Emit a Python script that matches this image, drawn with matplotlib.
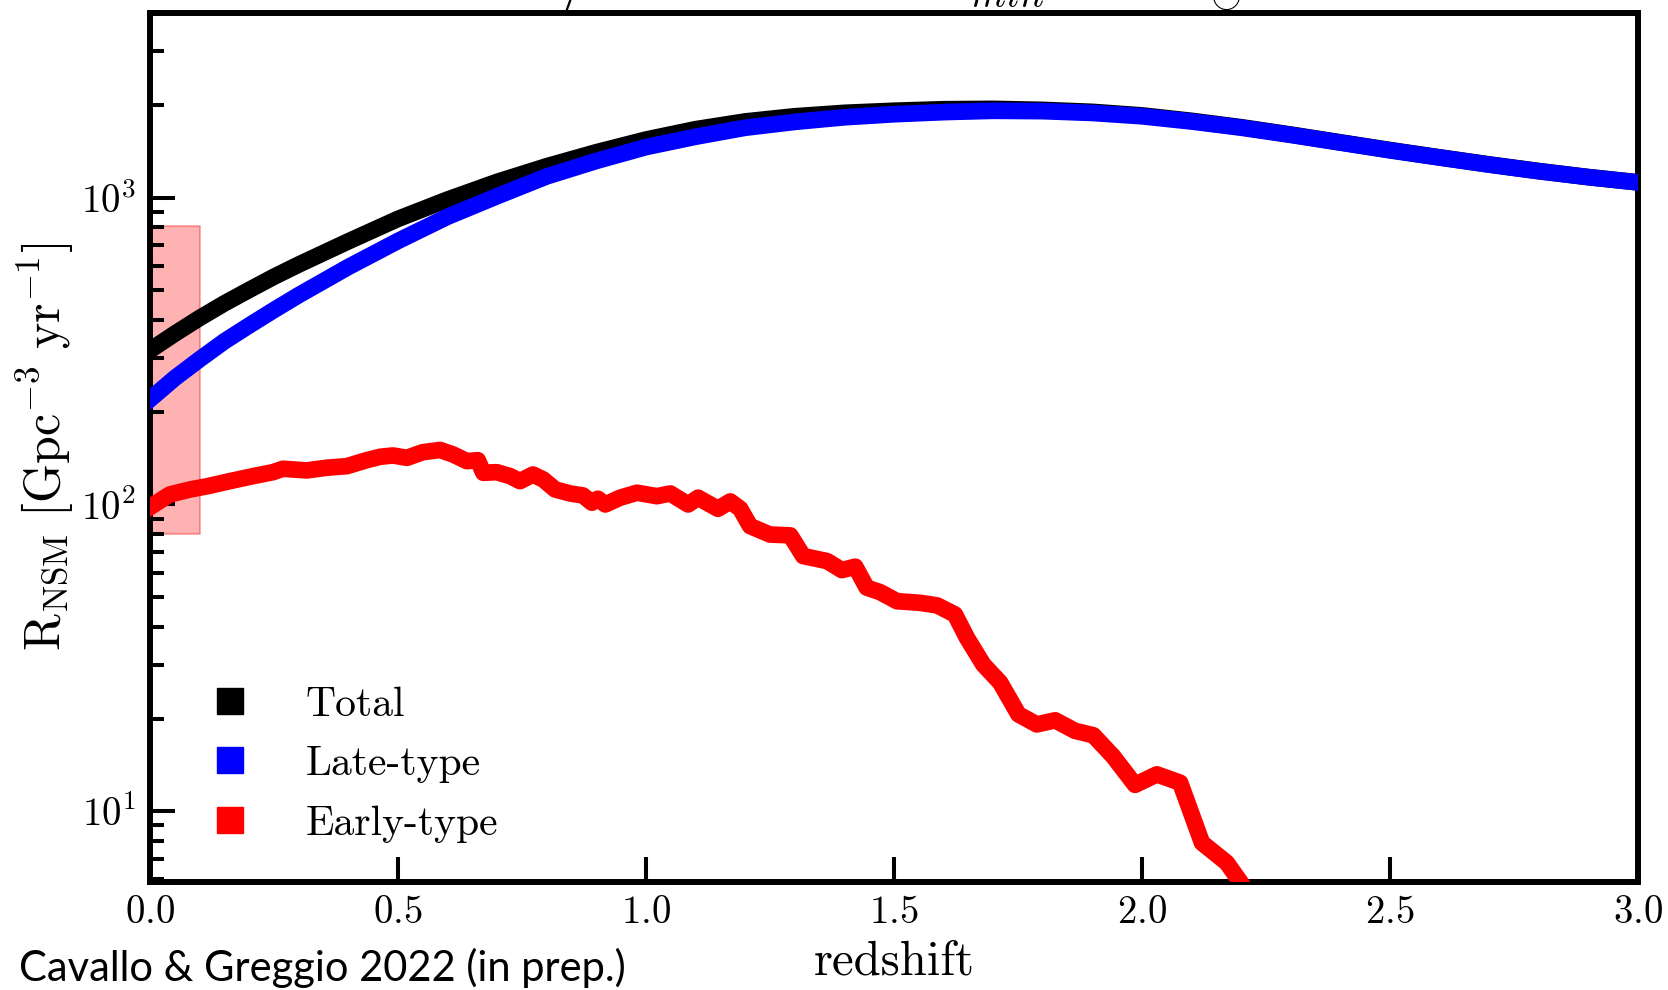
import matplotlib
matplotlib.use("Agg")
import matplotlib.pyplot as plt
from matplotlib.lines import Line2D
from matplotlib.ticker import NullLocator, NullFormatter, LogLocator

# ---- data ---------------------------------------------------------------
redshift = [0.0, 0.05, 0.1, 0.15, 0.2, 0.25, 0.3, 0.4, 0.5, 0.6, 0.7, 0.8,
            0.9, 1.0, 1.1, 1.2, 1.3, 1.4, 1.5, 1.6, 1.7, 1.8, 1.9, 2.0, 2.1,
            2.2, 2.3, 2.4, 2.5, 2.6, 2.7, 2.8, 2.9, 3.0]
rate_total = [318, 360, 405, 452, 500, 552, 605, 720, 852, 985, 1125, 1265,
              1405, 1545, 1670, 1770, 1840, 1888, 1918, 1940, 1945, 1930,
              1902, 1852, 1778, 1695, 1604, 1513, 1428, 1352, 1282, 1220,
              1166, 1121]
rate_late = [220, 258, 297, 340, 383, 430, 481, 594, 722, 866, 1010, 1172,
             1316, 1460, 1578, 1688, 1764, 1826, 1868, 1898, 1917, 1912,
             1886, 1840, 1769, 1689, 1600, 1510, 1425, 1350, 1280, 1218,
             1165, 1120]

redshift_early = [0.000, 0.040, 0.081, 0.114, 0.161, 0.208, 0.248, 0.268,
                  0.316, 0.356, 0.397, 0.437, 0.464, 0.490, 0.518, 0.550,
                  0.585, 0.611, 0.639, 0.661, 0.672, 0.699, 0.726, 0.746,
                  0.772, 0.793, 0.817, 0.847, 0.873, 0.891, 0.903, 0.918,
                  0.948, 0.982, 1.022, 1.049, 1.085, 1.105, 1.145, 1.170,
                  1.190, 1.210, 1.250, 1.291, 1.317, 1.365, 1.395, 1.422,
                  1.445, 1.472, 1.506, 1.553, 1.587, 1.623, 1.647, 1.680,
                  1.714, 1.751, 1.788, 1.825, 1.865, 1.902, 1.942, 1.986,
                  2.030, 2.077, 2.121, 2.171, 2.198, 2.240]
rate_early = [98, 107.8, 111.9, 114.5, 119.1, 123.7, 127.4, 130.7,
              129.1, 131.7, 133.3, 139.4, 143.0, 144.4, 141.9, 148.0,
              150.5, 145.5, 138.4, 139.4, 126.8, 127.4, 123.7, 119.1,
              125.2, 120.6, 111.9, 108.6, 107.0, 101.3, 104.4, 100.0,
              105.2, 109.2, 106.4, 108.6, 100.0, 105.2, 96.8, 102.3,
              96.8, 85.0, 79.8, 79.3, 67.9, 65.4, 61.1, 62.7,
              53.6, 51.8, 48.4, 47.8, 46.9, 43.8, 36.8, 30.1,
              26.3, 20.7, 19.2, 19.8, 18.3, 17.7, 15.1, 12.2,
              13.2, 12.4, 7.9, 6.8, 5.9, 4.6]

# local (LVK) rate interval
band_redshift = [0.0, 0.1]
band_rate = [80, 810]

labels = ["Total", "Late-type", "Early-type"]
colors = ["black", "blue", "red"]
xticks = [0.0, 0.5, 1.0, 1.5, 2.0, 2.5, 3.0]

# ---- style --------------------------------------------------------------
plt.rcParams.update({
    "font.family": "serif",
    "font.serif": ["cmr10"],
    "mathtext.fontset": "cm",
    "axes.formatter.use_mathtext": True,
    "axes.unicode_minus": False,
})

fig = plt.figure(figsize=(16.68, 9.90), dpi=100)
ax = fig.add_axes([0.0899, 0.1094, 0.8921, 0.8777])

ax.fill_between(band_redshift, band_rate[0], band_rate[1],
                facecolor=(1, 0, 0, 0.3), edgecolor=(0.9, 0, 0, 0.3),
                lw=1.5, zorder=1)

lw = 12
ax.plot(redshift, rate_total, color=colors[0], lw=lw, zorder=3,
        solid_joinstyle="round")
ax.plot(redshift, rate_late, color=colors[1], lw=lw, zorder=3.1,
        solid_joinstyle="round")
ax.plot(redshift_early, rate_early, color=colors[2], lw=lw, zorder=3.2,
        solid_joinstyle="round")

ax.set_yscale("log")
ax.set_xlim(0, 3)
ax.set_ylim(5.9, 4000)
ax.set_xticks(xticks)
ax.xaxis.set_minor_locator(NullLocator())
ax.yaxis.set_major_locator(LogLocator(base=10))
ax.yaxis.set_minor_locator(LogLocator(base=10, subs=range(2, 10)))
ax.yaxis.set_minor_formatter(NullFormatter())

ax.tick_params(which="both", direction="in", top=False, right=False,
               width=2.9, labelsize=28, colors="black")
ax.tick_params(which="major", length=18, pad=10)
ax.tick_params(which="minor", length=10)
for sp in ax.spines.values():
    sp.set_linewidth(4.3)

ax.set_xlabel("redshift", fontsize=35)
ax.xaxis.set_label_coords(0.5, -0.067)
ax.set_ylabel(r"$\mathrm{R}_{\mathrm{NSM}}\ [\mathrm{Gpc}^{-3}\ \mathrm{yr}^{-1}]$",
              fontsize=36)
ax.yaxis.set_label_coords(-0.05, 0.5)

handles = [Line2D([], [], marker="s", ls="none", color=c, markersize=18.7)
           for c in colors]
ax.legend(handles, labels, loc="lower left", bbox_to_anchor=(0.0397, 0.045),
          frameon=False, fontsize=30, handlelength=1.0, handletextpad=1.32,
          labelspacing=0.53, borderpad=0, borderaxespad=0)

fig.text(0.262, 1.0 + 1.5 / 990,
         r"$\mathrm{ETG}/\mathrm{LTG} = 0.2 \quad\;\, m_{min} = 8\,M_\odot$",
         fontsize=41, ha="left", va="baseline")

fig.text(19 / 1668, 1 - 968 / 990, "Cavallo & Greggio 2022 (in prep.)",
         family="Lato", fontsize=30, ha="left", va="center")

fig.savefig("out.png", dpi=100)
